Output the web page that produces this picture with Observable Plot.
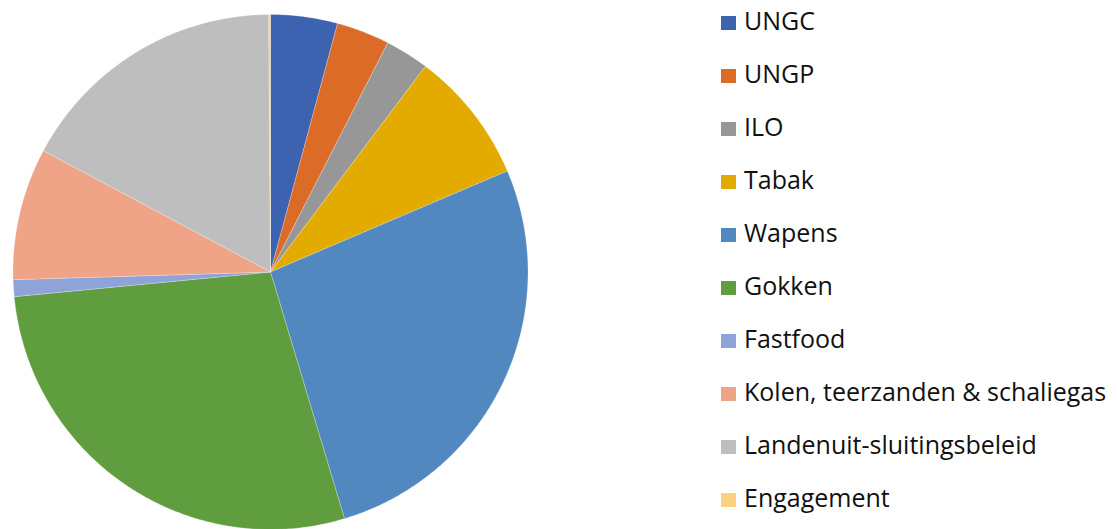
<!DOCTYPE html>
<html>
<head>
<meta charset="utf-8">
<script src="https://cdn.jsdelivr.net/npm/d3@7"></script>
<script src="https://cdn.jsdelivr.net/npm/@observablehq/plot@0.6"></script>
<style>
  html, body { margin: 0; padding: 0; background: #fff; }
  #wrap { position: relative; width: 1117px; height: 529px; overflow: hidden; }
  #legend { position: absolute; left: 721px; top: 0; font-family: "Open Sans", sans-serif; font-size: 25px; color: #111; }
  .item { position: absolute; left: 0; white-space: nowrap; height: 30px; }
  .sw { position: absolute; left: 0; width: 15px; height: 14px; }
  .lab { position: absolute; left: 23px; line-height: 1; }
</style>
</head>
<body>
<div id="wrap"><div id="chart"></div><div id="legend"></div></div>
<script>
const categories = ["UNGC", "UNGP", "ILO", "Tabak", "Wapens", "Gokken", "Fastfood", "Kolen, teerzanden & schaliegas", "Landenuit-sluitingsbeleid", "Engagement"];
const values = [15.1, 12.0, 9.9, 29.9, 96.4, 101.2, 3.8, 29.8, 61.5, 0.4];
const colors = ["#3D62B0", "#DC6B28", "#979797", "#E3AA00", "#5088BF", "#609D3E", "#8EA4D9", "#F0A487", "#BEBEBE", "#FCD27F"];

const data = categories.map((name, i) => ({name, value: values[i]}));
const arcs = d3.pie().value(d => d.value).sort(null)(data);
const pts = [];
for (const a of arcs) {
  const n = Math.max(2, Math.ceil((a.endAngle - a.startAngle) / 0.01));
  pts.push({name: a.data.name, x: 0, y: 0});
  for (let k = 0; k <= n; k++) {
    const t = a.startAngle + (a.endAngle - a.startAngle) * k / n;
    pts.push({name: a.data.name, x: Math.sin(t), y: Math.cos(t)});
  }
  pts.push({name: a.data.name, x: 0, y: 0});
}

const chart = Plot.plot({
  width: 1117,
  height: 529,
  marginLeft: 12.5,
  marginRight: 589.5,
  marginTop: 14,
  marginBottom: 0,
  x: {domain: [-1, 1], axis: null},
  y: {domain: [-1, 1], axis: null},
  color: {domain: categories, range: colors},
  marks: [
    Plot.line(pts, {x: "x", y: "y", z: "name", fill: "name", stroke: "white", strokeWidth: 0.4, strokeOpacity: 0.6})
  ]
});
document.getElementById("chart").appendChild(chart);

const legend = document.getElementById("legend");
categories.forEach((c, i) => {
  const it = document.createElement("div");
  it.className = "item";
  it.style.top = (8 + i * 53) + "px";
  const sw = document.createElement("div");
  sw.className = "sw";
  sw.style.background = chart.scale("color").apply(c);
  sw.style.top = "8px";
  const lab = document.createElement("div");
  lab.className = "lab";
  lab.textContent = c;
  lab.style.top = "0px";
  it.appendChild(sw); it.appendChild(lab);
  legend.appendChild(it);
});
</script>
</body>
</html>
